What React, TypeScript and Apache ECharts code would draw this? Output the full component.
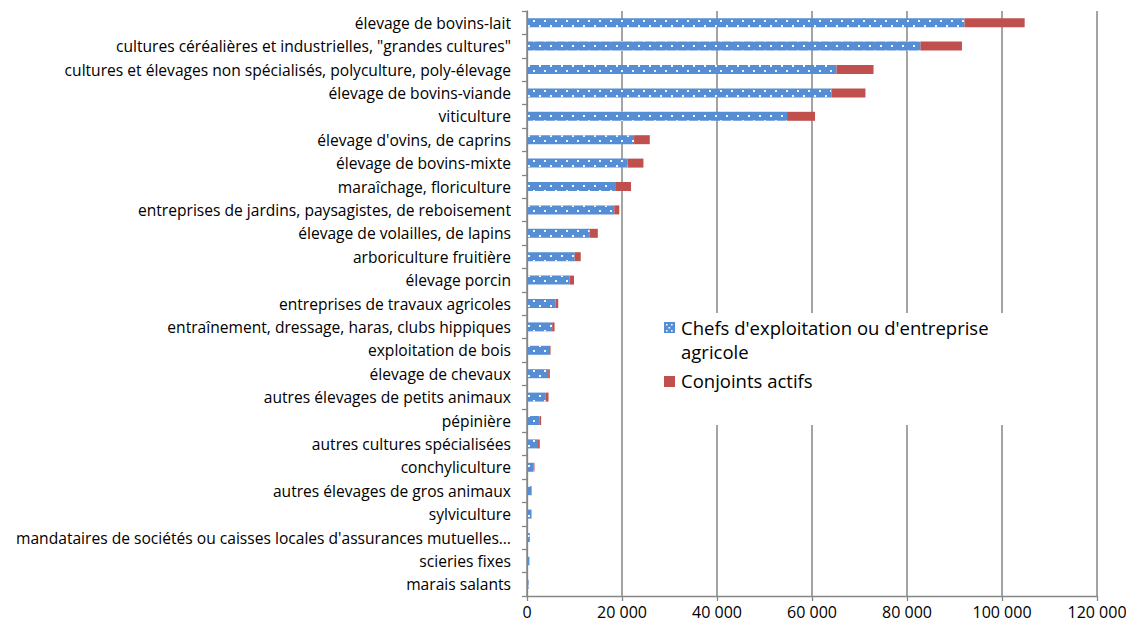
import React, { useEffect, useRef } from "react";
import * as echarts from "echarts";

const categories = [
  "élevage de bovins-lait",
  "cultures céréalières et industrielles, \"grandes cultures\"",
  "cultures et élevages non spécialisés, polyculture, poly-élevage",
  "élevage de bovins-viande",
  "viticulture",
  "élevage d'ovins, de caprins",
  "élevage de bovins-mixte",
  "maraîchage, floriculture",
  "entreprises de jardins, paysagistes, de reboisement",
  "élevage de volailles, de lapins",
  "arboriculture fruitière",
  "élevage porcin",
  "entreprises de travaux agricoles",
  "entraînement, dressage, haras, clubs hippiques",
  "exploitation de bois",
  "élevage de chevaux",
  "autres élevages de petits animaux",
  "pépinière",
  "autres cultures spécialisées",
  "conchyliculture",
  "autres élevages de gros animaux",
  "sylviculture",
  "mandataires de sociétés ou caisses locales d'assurances mutuelles…",
  "scieries fixes",
  "marais salants",
];

const chefs = [
  92100, 82840, 65150, 64090, 54750, 22540, 21190, 18730, 18370, 13220, 10040,
  8980, 6010, 5300, 4660, 4450, 3960, 2690, 2330, 1420, 930, 900, 570, 480, 330,
];

const conjoints = [
  12670, 8730, 7800, 7160, 5890, 3310, 3320, 3170, 1060, 1690, 1270, 910, 560,
  500, 300, 360, 570, 280, 360, 150, 70, 60, 40, 30, 20,
];

const xTicks = { min: 0, max: 120000, interval: 20000 };

const seriesNames = [
  "Chefs d'exploitation ou d'entreprise agricole",
  "Conjoints actifs",
];

const BLUE = "#558ED5";
const RED = "#C0504D";
const GRAY = "#868686";
const FONT = "'Open Sans'";

function fmt(v: number): string {
  return String(v).replace(/\B(?=(\d{3})+(?!\d))/g, " ");
}

export default function App() {
  const ref = useRef<HTMLDivElement>(null);
  useEffect(() => {
    if (!ref.current) return;
    const chart = echarts.init(ref.current, undefined, { renderer: "svg" });
    const lx = 664;
    const dots: any[] = [];
    [
      [2, 2],
      [7, 2],
      [4.5, 5],
      [2, 8],
      [7, 8],
    ].forEach(([dx, dy]) =>
      dots.push({
        type: "rect",
        shape: { x: lx + dx, y: 322 + dy, width: 1.6, height: 1.6 },
        style: { fill: "#fff" },
        z: 102,
      })
    );
    chart.setOption({
      animation: false,
      backgroundColor: "#fff",
      grid: { left: 527, right: 37, top: 11, bottom: 34, containLabel: false },
      xAxis: {
        type: "value",
        min: xTicks.min,
        max: xTicks.max,
        interval: xTicks.interval,
        axisLine: { show: true, lineStyle: { color: GRAY, width: 1.3 } },
        axisTick: { show: true, length: 5, lineStyle: { color: GRAY, width: 1.3 } },
        splitLine: { show: true, lineStyle: { color: GRAY, width: 1.5 } },
        axisLabel: {
          color: "#000",
          fontFamily: FONT,
          fontSize: 16,
          margin: 8,
          formatter: (v: number) => fmt(v),
        },
      },
      yAxis: {
        type: "category",
        data: categories,
        inverse: true,
        axisLine: { show: true, lineStyle: { color: GRAY, width: 1.3 } },
        axisTick: { show: true, length: 5, alignWithLabel: false, lineStyle: { color: GRAY, width: 1.3 } },
        axisLabel: {
          color: "#000",
          fontFamily: FONT,
          fontSize: 15.6,
          margin: 16,
        },
        splitLine: { show: false },
      },
      series: [
        {
          name: seriesNames[0],
          type: "bar",
          stack: "total",
          data: chefs,
          barWidth: 9,
          itemStyle: {
            color: BLUE,
            decal: {
              symbol: "rect",
              symbolSize: 1,
              color: "rgba(255,255,255,0.95)",
              dashArrayX: [
                [1.6, 8.4],
                [0, 5, 1.6, 3.4],
              ],
              dashArrayY: [1.6, 2.9],
            },
          },
        },
        {
          name: seriesNames[1],
          type: "bar",
          stack: "total",
          data: conjoints,
          barWidth: 9,
          itemStyle: { color: RED },
        },
      ],
      graphic: [
        {
          type: "rect",
          shape: { x: 652, y: 313, width: 380, height: 112 },
          style: { fill: "#fff" },
          z: 100,
        },
        {
          type: "rect",
          shape: { x: lx, y: 322, width: 11, height: 11 },
          style: { fill: BLUE },
          z: 101,
        },
        ...dots,
        {
          type: "text",
          x: 681,
          y: 315,
          z: 101,
          style: {
            text: "Chefs d'exploitation ou d'entreprise\nagricole",
            fill: "#000",
            font: `18.5px ${FONT}`,
            lineHeight: 24,
            verticalAlign: "top",
          },
        },
        {
          type: "rect",
          shape: { x: lx, y: 376, width: 11, height: 11 },
          style: { fill: RED },
          z: 101,
        },
        {
          type: "text",
          x: 681,
          y: 368,
          z: 101,
          style: {
            text: seriesNames[1],
            fill: "#000",
            font: `18.5px ${FONT}`,
            lineHeight: 24,
            verticalAlign: "top",
          },
        },
      ],
    });
    return () => chart.dispose();
  }, []);
  return <div ref={ref} style={{ width: 1134, height: 630, margin: -8 }} />;
}
